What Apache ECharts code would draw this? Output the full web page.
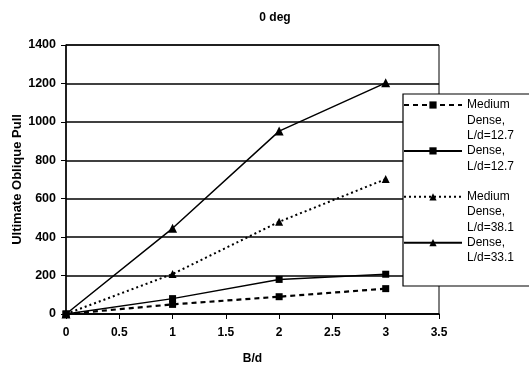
<!DOCTYPE html>
<html>
<head>
<meta charset="utf-8">
<script src="https://cdn.jsdelivr.net/npm/echarts@6/dist/echarts.min.js"></script>
<style>
  html, body { margin: 0; padding: 0; background: #fff; }
  #chart { width: 529px; height: 367px; }
</style>
</head>
<body>
<div id="chart"></div>
<script>
// B/d ratios
var bd = [0, 1, 2, 3];
// Ultimate oblique pull for each soil / embedment case
var mediumDense127 = [0, 50, 90, 132];
var dense127 = [0, 80, 180, 207];
var mediumDense381 = [0, 208, 480, 702];
var dense381 = [0, 446, 952, 1203];

var seriesNames = [
  'Medium\nDense,\nL/d=12.7',
  'Dense,\nL/d=12.7',
  'Medium\nDense,\nL/d=38.1',
  'Dense,\nL/d=33.1'
];

function pairs(xs, ys) {
  return xs.map(function (x, i) { return [x, ys[i]]; });
}

// Pads each legend entry so its first text line sits level with the icon
function padLegend(name) {
  var n = name.split('\n').length;
  return new Array(n).join('\n') + name;
}

var LINE_H = 15.3;
var font = 'Arial, "Liberation Sans", sans-serif';

var chart = echarts.init(document.getElementById('chart'));
chart.setOption({
  animation: false,
  backgroundColor: '#fff',
  title: {
    text: '0 deg',
    left: 270,
    top: 7,
    textAlign: 'center',
    textStyle: { fontFamily: font, fontWeight: 'bold', fontSize: 12, color: '#000' }
  },
  grid: {
    left: 66, right: 90, top: 45, bottom: 53,
    containLabel: false,
    outerBoundsMode: 'none',
    show: true, borderColor: '#000', borderWidth: 1, backgroundColor: 'transparent'
  },
  xAxis: {
    type: 'value',
    min: 0, max: 3.5, interval: 0.5,
    name: 'B/d',
    nameLocation: 'middle',
    nameGap: 39,
    nameTextStyle: { fontFamily: font, fontWeight: 'bold', fontSize: 12, color: '#000' },
    axisLine: { lineStyle: { color: '#000', width: 1.5 } },
    axisTick: { show: true, length: 5, lineStyle: { color: '#000' } },
    axisLabel: { fontFamily: font, fontWeight: 'bold', fontSize: 12, color: '#000', margin: 13 },
    splitLine: { show: false }
  },
  yAxis: {
    type: 'value',
    min: 0, max: 1400, interval: 200,
    name: 'Ultimate Oblique Pull',
    nameLocation: 'middle',
    nameGap: 42,
    nameMoveOverlap: false,
    nameTextStyle: { fontFamily: font, fontWeight: 'bold', fontSize: 13, color: '#000' },
    axisLine: { show: true, lineStyle: { color: '#000', width: 1.5 } },
    axisTick: { show: true, length: 5, lineStyle: { color: '#000' } },
    axisLabel: {
      fontFamily: font, fontWeight: 'bold', fontSize: 12.5, color: '#000', margin: 10,
      formatter: function (v) { return String(v); }
    },
    splitLine: { show: true, lineStyle: { color: '#000', width: 1.5 } }
  },
  graphic: [{
    type: 'rect',
    z: 10,
    shape: { x: 403, y: 94, width: 140, height: 192 },
    style: { fill: '#fff', stroke: '#000', lineWidth: 1.2 }
  }],
  legend: {
    z: 20,
    orient: 'vertical',
    left: 403,
    top: 105 - 2.5 * LINE_H,
    padding: 0,
    itemGap: -LINE_H,
    itemWidth: 58,
    itemHeight: 9,
    selectedMode: false,
    backgroundColor: 'transparent',
    formatter: function (name) { return padLegend(name); },
    textStyle: { fontFamily: font, fontSize: 12, color: '#000', lineHeight: LINE_H },
    data: seriesNames
  },
  series: [
    {
      name: seriesNames[0], type: 'line', data: pairs(bd, mediumDense127),
      symbol: 'rect', symbolSize: 7,
      lineStyle: { color: '#000', width: 2.2, type: [5, 4] },
      itemStyle: { color: '#000' }
    },
    {
      name: seriesNames[1], type: 'line', data: pairs(bd, dense127),
      symbol: 'rect', symbolSize: 7,
      lineStyle: { color: '#000', width: 1.5, type: 'solid' },
      itemStyle: { color: '#000' }
    },
    {
      name: seriesNames[2], type: 'line', data: pairs(bd, mediumDense381),
      symbol: 'triangle', symbolSize: 8,
      lineStyle: { color: '#000', width: 2, type: [2, 3] },
      itemStyle: { color: '#000' }
    },
    {
      name: seriesNames[3], type: 'line', data: pairs(bd, dense381),
      symbol: 'triangle', symbolSize: 9,
      lineStyle: { color: '#000', width: 1.5, type: 'solid' },
      itemStyle: { color: '#000' }
    }
  ]
});
</script>
</body>
</html>
